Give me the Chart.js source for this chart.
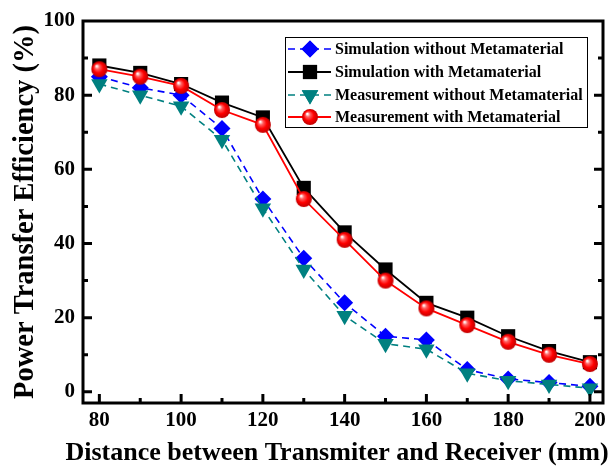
<!DOCTYPE html>
<html>
<head>
<meta charset="utf-8">
<script src="https://cdn.jsdelivr.net/npm/chart.js@4/dist/chart.umd.min.js"></script>
<style>
  html, body { margin: 0; padding: 0; background: #fff; }
  #wrap { position: relative; width: 614px; height: 466px; }
</style>
</head>
<body>
<div id="wrap"><canvas id="chart" width="614" height="466"></canvas></div>
<script>
const distances = [80, 90, 100, 110, 120, 130, 140, 150, 160, 170, 180, 190, 200];
const simWithout = [85, 82, 80, 71, 52, 36, 24, 15, 14, 6, 3.5, 2.5, 1.5];
const simWith = [88, 86, 83, 78, 74, 55, 43, 33, 24, 20, 15, 11, 8];
const measWithout = [83, 80, 77, 68, 49.5, 33, 20.5, 13, 11.5, 5, 3, 2, 1];
const measWith = [87, 85, 82.5, 76, 72, 52, 41, 30, 22.5, 18, 13.5, 10, 7.5];
const xTicks = [80, 100, 120, 140, 160, 180, 200];
const yTicks = [0, 20, 40, 60, 80, 100];
const xTitle = 'Distance between Transmiter and Receiver (mm)';
const yTitle = 'Power Transfer Efficiency (%)';

const FONT = "'Liberation Serif', 'Times New Roman', serif";

// shiny red ball marker
function makeBall(r) {
  const c = document.createElement('canvas');
  c.width = c.height = r * 2 + 2;
  const g = c.getContext('2d');
  const cx = r + 1, cy = r + 1;
  const grad = g.createRadialGradient(cx - r * 0.35, cy - r * 0.4, 0.5, cx, cy, r);
  grad.addColorStop(0, '#ffffff');
  grad.addColorStop(0.25, '#ff6060');
  grad.addColorStop(0.6, '#ff0000');
  grad.addColorStop(1, '#c00000');
  g.fillStyle = grad;
  g.beginPath();
  g.arc(cx, cy, r, 0, Math.PI * 2);
  g.fill();
  return c;
}
const ball = makeBall(8);

const toPts = arr => arr.map((v, i) => ({ x: distances[i], y: v }));

// frame, inward ticks, x title (wider than plot) and boxed legend
const framePlugin = {
  id: 'frame',
  afterDatasetsDraw(chart) {
    const { ctx, chartArea: a, scales: { x, y } } = chart;
    ctx.save();
    ctx.strokeStyle = '#000';
    ctx.lineWidth = 3;
    ctx.strokeRect(a.left, a.top, a.right - a.left, a.bottom - a.top);
    for (let v = 80; v <= 200; v += 10) {
      const px = x.getPixelForValue(v);
      const len = v % 20 === 0 ? 9 : 5;
      ctx.beginPath();
      ctx.moveTo(px, a.bottom);
      ctx.lineTo(px, a.bottom - len);
      ctx.stroke();
    }
    for (let v = 0; v <= 90; v += 10) {
      const py = y.getPixelForValue(v);
      const len = v % 20 === 0 ? 9 : 5;
      ctx.beginPath();
      ctx.moveTo(a.left, py);
      ctx.lineTo(a.left + len, py);
      ctx.moveTo(a.right, py);
      ctx.lineTo(a.right - len, py);
      ctx.stroke();
    }
    ctx.fillStyle = '#000';
    ctx.font = 'bold 26px ' + FONT;
    ctx.textAlign = 'center';
    ctx.textBaseline = 'middle';
    ctx.fillText(xTitle, 337, 453, 550);
    ctx.restore();
  },
  afterDraw(chart) {
    const { ctx } = chart;
    const box = { left: 285, top: 37, width: 302, height: 90 };
    ctx.save();
    ctx.fillStyle = '#fff';
    ctx.fillRect(box.left, box.top, box.width, box.height);
    ctx.strokeStyle = '#000';
    ctx.lineWidth = 1;
    ctx.strokeRect(box.left + 0.5, box.top + 0.5, box.width, box.height);
    const rows = [49, 72, 95, 117];
    chart.data.datasets.forEach((ds, i) => {
      const yy = rows[i];
      ctx.strokeStyle = ds.borderColor;
      ctx.lineWidth = ds.borderWidth;
      ctx.setLineDash(ds.borderDash || []);
      ctx.beginPath();
      ctx.moveTo(288, yy);
      ctx.lineTo(331, yy);
      ctx.stroke();
      ctx.setLineDash([]);
      const opts = {
        pointStyle: ds.pointStyle,
        radius: ds.pointRadius,
        rotation: ds.pointRotation || 0,
        borderWidth: 0
      };
      if (typeof ds.pointStyle === 'string') {
        ctx.fillStyle = ds.pointBackgroundColor;
        ctx.beginPath();
        Chart.helpers.drawPoint(ctx, opts, 310, yy);
        ctx.fill();
      } else {
        Chart.helpers.drawPoint(ctx, opts, 310, yy);
      }
      ctx.fillStyle = '#000';
      ctx.font = 'bold 16px ' + FONT;
      ctx.textBaseline = 'middle';
      ctx.textAlign = 'left';
      ctx.fillText(ds.label, 335, yy + 1);
    });
    ctx.restore();
  }
};

new Chart(document.getElementById('chart'), {
  type: 'line',
  data: {
    datasets: [
      {
        label: 'Simulation without Metamaterial',
        data: toPts(simWithout),
        borderColor: '#0000ff',
        backgroundColor: '#0000ff',
        pointBackgroundColor: '#0000ff',
        borderWidth: 1.6,
        borderDash: [7, 5],
        pointStyle: 'rectRot',
        pointRadius: 8.5,
        pointBorderWidth: 0,
        order: 3
      },
      {
        label: 'Simulation with Metamaterial',
        data: toPts(simWith),
        borderColor: '#000000',
        backgroundColor: '#000000',
        pointBackgroundColor: '#000000',
        borderWidth: 1.8,
        pointStyle: 'rect',
        pointRadius: 10,
        pointBorderWidth: 0,
        order: 2
      },
      {
        label: 'Measurement without Metamaterial',
        data: toPts(measWithout),
        borderColor: '#008080',
        backgroundColor: '#008080',
        pointBackgroundColor: '#008080',
        borderWidth: 1.6,
        borderDash: [7, 5],
        pointStyle: 'triangle',
        pointRotation: 180,
        pointRadius: 9.5,
        pointBorderWidth: 0,
        order: 1
      },
      {
        label: 'Measurement with Metamaterial',
        data: toPts(measWith),
        borderColor: '#ff0000',
        backgroundColor: '#ff0000',
        pointBackgroundColor: '#ff0000',
        borderWidth: 1.8,
        pointStyle: ball,
        pointRadius: 8,
        pointBorderWidth: 0,
        order: 0
      }
    ]
  },
  options: {
    responsive: false,
    animation: false,
    layout: { padding: { top: 21, right: 11, left: 0, bottom: 0 } },
    plugins: {
      legend: { display: false },
      tooltip: { enabled: false }
    },
    scales: {
      x: {
        type: 'linear',
        min: 76,
        max: 203.2,
        afterBuildTicks: s => { s.ticks = xTicks.map(v => ({ value: v })); },
        afterFit: s => { s.height = 63; },
        grid: { display: false, drawTicks: false },
        border: { display: false },
        ticks: {
          color: '#000',
          padding: 5,
          maxRotation: 0,
          font: { family: FONT, size: 21, weight: 'bold' }
        },
        title: { display: false }
      },
      y: {
        type: 'linear',
        min: -3,
        max: 100,
        afterBuildTicks: s => { s.ticks = yTicks.map(v => ({ value: v })); },
        afterFit: s => { s.width = 83; },
        grid: { display: false, drawTicks: false },
        border: { display: false },
        ticks: {
          color: '#000',
          padding: 8,
          font: { family: FONT, size: 21, weight: 'bold' }
        },
        title: {
          display: true,
          text: yTitle,
          color: '#000',
          padding: { top: 11, bottom: 0 },
          font: { family: FONT, size: 28.5, weight: 'bold', lineHeight: 1 }
        }
      }
    }
  },
  plugins: [framePlugin]
});
</script>
</body>
</html>
